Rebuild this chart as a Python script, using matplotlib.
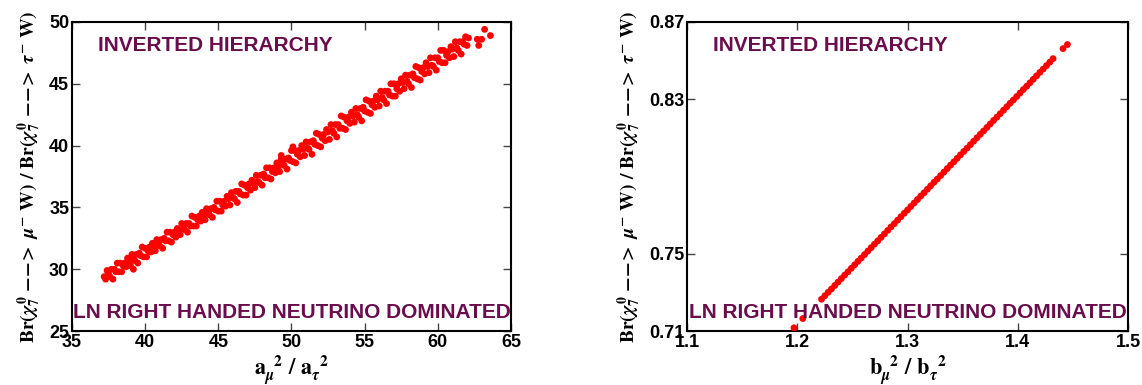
#%% IMPORT

import numpy as np
import matplotlib.pyplot as plt

#%% DADOS

# painel esquerdo: a_mu^2/a_tau^2 vs razão de Br
a_ratio = [37.2, 37.3, 37.4, 37.5, 37.6, 37.7, 37.8, 37.9, 38.0, 38.1,
           38.2, 38.3, 38.4, 38.5, 38.6, 38.7, 38.8, 38.9, 39.0, 39.1,
           39.2, 39.3, 39.4, 39.5, 39.6, 39.7, 39.8, 39.9, 40.0, 40.1,
           40.2, 40.3, 40.4, 40.5, 40.6, 40.7, 40.8, 40.9, 41.0, 41.1,
           41.2, 41.3, 41.4, 41.5, 41.6, 41.7, 41.8, 41.9, 42.0, 42.1,
           42.2, 42.3, 42.4, 42.5, 42.6, 42.7, 42.8, 42.9, 43.0, 43.1,
           43.2, 43.3, 43.4, 43.5, 43.6, 43.7, 43.8, 43.9, 44.0, 44.1,
           44.2, 44.3, 44.4, 44.5, 44.6, 44.7, 44.8, 44.9, 45.0, 45.1,
           45.2, 45.3, 45.4, 45.5, 45.6, 45.7, 45.8, 45.9, 46.0, 46.1,
           46.2, 46.3, 46.4, 46.5, 46.6, 46.7, 46.8, 46.9, 47.0, 47.1,
           47.2, 47.3, 47.4, 47.5, 47.6, 47.7, 47.8, 47.9, 48.0, 48.1,
           48.2, 48.3, 48.4, 48.5, 48.6, 48.7, 48.8, 48.9, 49.0, 49.1,
           49.2, 49.3, 49.4, 49.5, 49.6, 49.7, 49.8, 49.9, 50.0, 50.1,
           50.2, 50.3, 50.4, 50.5, 50.6, 50.7, 50.8, 50.9, 51.0, 51.1,
           51.2, 51.3, 51.4, 51.5, 51.6, 51.7, 51.8, 51.9, 52.0, 52.1,
           52.2, 52.3, 52.4, 52.5, 52.6, 52.7, 52.8, 52.9, 53.0, 53.1,
           53.2, 53.3, 53.4, 53.5, 53.6, 53.7, 53.8, 53.9, 54.0, 54.1,
           54.2, 54.3, 54.4, 54.5, 54.6, 54.7, 54.8, 54.9, 55.0, 55.1,
           55.2, 55.3, 55.4, 55.5, 55.6, 55.7, 55.8, 55.9, 56.0, 56.1,
           56.2, 56.3, 56.4, 56.5, 56.6, 56.7, 56.8, 56.9, 57.0, 57.1,
           57.2, 57.3, 57.4, 57.5, 57.6, 57.7, 57.8, 57.9, 58.0, 58.1,
           58.2, 58.3, 58.4, 58.5, 58.6, 58.7, 58.8, 58.9, 59.0, 59.1,
           59.2, 59.3, 59.4, 59.5, 59.6, 59.7, 59.8, 59.9, 60.0, 60.1,
           60.2, 60.3, 60.4, 60.5, 60.6, 60.7, 60.8, 60.9, 61.0, 61.1,
           61.2, 61.3, 61.4, 61.5, 61.6, 61.7, 61.8, 61.9, 62.0, 62.1,
           62.7, 62.8, 63.0, 63.2, 63.6, 39.2, 50.1, 49.3]
br_a = [29.4, 29.2, 29.9, 29.6, 29.4, 30.0, 29.2, 30.0, 29.8, 30.5,
        29.8, 30.5, 29.8, 30.3, 30.5, 30.2, 30.9, 30.7, 30.3, 31.2,
        30.8, 30.7, 31.2, 30.5, 31.3, 31.1, 31.8, 31.0, 31.7, 31.0,
        31.5, 31.8, 31.4, 32.1, 31.9, 31.5, 32.4, 32.0, 31.9, 32.4,
        31.7, 32.5, 32.3, 33.0, 32.3, 33.0, 32.2, 32.8, 33.0, 32.6,
        33.3, 33.1, 32.8, 33.7, 33.3, 33.2, 33.7, 33.0, 33.7, 33.5,
        34.3, 33.5, 34.2, 33.5, 34.0, 34.3, 33.9, 34.6, 34.4, 34.0,
        34.9, 34.5, 34.4, 34.9, 34.2, 35.0, 34.8, 35.5, 34.7, 35.5,
        34.7, 35.2, 35.5, 35.1, 35.9, 35.7, 35.2, 36.2, 35.8, 35.7,
        36.3, 35.4, 36.3, 36.1, 36.9, 36.0, 36.8, 36.0, 36.6, 36.9,
        36.4, 37.2, 37.0, 36.6, 37.6, 37.1, 37.0, 37.6, 36.8, 37.7,
        37.4, 38.2, 37.4, 38.2, 37.3, 37.9, 38.2, 37.8, 38.6, 38.3,
        37.9, 38.9, 38.5, 38.4, 38.9, 38.1, 39.0, 38.8, 39.6, 38.7,
        39.6, 38.6, 39.3, 39.6, 39.1, 40.0, 39.7, 39.2, 40.3, 39.8,
        39.7, 40.3, 39.3, 40.4, 40.1, 41.0, 40.0, 40.9, 39.9, 40.6,
        40.9, 40.4, 41.3, 41.1, 40.5, 41.7, 41.2, 41.0, 41.7, 40.7,
        41.7, 41.4, 42.4, 41.4, 42.3, 41.3, 42.0, 42.3, 41.8, 42.7,
        42.4, 41.9, 43.0, 42.5, 42.3, 43.0, 42.0, 43.1, 42.8, 43.7,
        42.7, 43.6, 42.6, 43.3, 43.6, 43.1, 44.0, 43.7, 43.2, 44.4,
        43.9, 43.7, 44.4, 43.4, 44.4, 44.1, 45.0, 44.0, 45.0, 44.0,
        44.6, 45.0, 44.4, 45.4, 45.1, 44.6, 45.7, 45.2, 45.0, 45.7,
        44.7, 45.8, 45.5, 46.4, 45.4, 46.3, 45.3, 46.0, 46.3, 45.8,
        46.7, 46.4, 45.9, 47.1, 46.5, 46.4, 47.1, 46.1, 47.1, 46.8,
        47.7, 46.7, 47.7, 46.7, 47.3, 47.6, 47.1, 48.0, 47.8, 47.2,
        48.4, 47.9, 47.7, 48.4, 47.4, 48.4, 48.2, 48.8, 48.1, 48.7,
        48.6, 48.1, 48.6, 49.4, 48.9, 30.0, 39.9, 39.2]

# painel direito: b_mu^2/b_tau^2 vs razão de Br
b_ratio = [1.197, 1.205,
           1.222, 1.225, 1.228, 1.231, 1.234, 1.237, 1.240, 1.243, 1.246, 1.249,
           1.252, 1.255, 1.258, 1.261, 1.264, 1.267, 1.270, 1.273, 1.276, 1.279,
           1.282, 1.285, 1.288, 1.291, 1.294, 1.297, 1.300, 1.303, 1.306, 1.309,
           1.312, 1.315, 1.318, 1.321, 1.324, 1.327, 1.330, 1.333, 1.336, 1.339,
           1.342, 1.345, 1.348, 1.351, 1.354, 1.357, 1.360, 1.363, 1.366, 1.369,
           1.372, 1.375, 1.378, 1.381, 1.384, 1.387, 1.390, 1.393, 1.396, 1.399,
           1.402, 1.405, 1.408, 1.411, 1.414, 1.417, 1.420, 1.423, 1.426, 1.429,
           1.432, 1.441, 1.445]
br_b = [0.7117, 0.7165,
        0.7265, 0.7283, 0.7301, 0.7318, 0.7336, 0.7354, 0.7372, 0.7390, 0.7407, 0.7425,
        0.7443, 0.7461, 0.7478, 0.7496, 0.7514, 0.7532, 0.7550, 0.7567, 0.7585, 0.7603,
        0.7621, 0.7639, 0.7656, 0.7674, 0.7692, 0.7710, 0.7727, 0.7745, 0.7763, 0.7781,
        0.7799, 0.7816, 0.7834, 0.7852, 0.7870, 0.7887, 0.7905, 0.7923, 0.7941, 0.7959,
        0.7976, 0.7994, 0.8012, 0.8030, 0.8047, 0.8065, 0.8083, 0.8101, 0.8119, 0.8136,
        0.8154, 0.8172, 0.8190, 0.8207, 0.8225, 0.8243, 0.8261, 0.8279, 0.8296, 0.8314,
        0.8332, 0.8350, 0.8367, 0.8385, 0.8403, 0.8421, 0.8439, 0.8456, 0.8474, 0.8492,
        0.8510, 0.8562, 0.8583]

a_ticks = [35, 40, 45, 50, 55, 60, 65]
a_yticks = [25, 30, 35, 40, 45, 50]
b_ticks = [1.1, 1.2, 1.3, 1.4, 1.5]
b_yticks = [0.71, 0.75, 0.83, 0.87]

#%% ESTILO

plt.rcParams['font.family'] = ['Liberation Sans', 'DejaVu Sans']
plt.rcParams['font.weight'] = 'bold'
plt.rcParams['mathtext.fontset'] = 'stix'

roxo = '#6a0d4d'
ylab = (r'$\mathbf{Br(}\chi^{\,0}_{\,7}\ \mathbf{-\!-\!\!>}\ \mu^{-}\ \mathbf{W)\ /\ Br(}'
        r'\chi^{\,0}_{\,7}\ \mathbf{-\!-\!\!>}\ \tau^{-}\ \mathbf{W)}$')

#%% FIGURA

fig = plt.figure(figsize=(11.42, 3.85), dpi=100)
ax1 = fig.add_axes([0.063, 0.140, 0.3844, 0.803])
ax2 = fig.add_axes([0.6016, 0.140, 0.3862, 0.803])

def painel(ax, x, y, xt, yt, xlab):
    ax.scatter(x, y, s=24, color='red', edgecolors='none', zorder=3)
    ax.set_xlim(xt[0], xt[-1])
    ax.set_ylim(yt[0], yt[-1])
    ax.set_xticks(xt)
    ax.set_yticks(yt)
    ax.set_xticklabels([str(v) for v in xt])
    ax.set_yticklabels([str(v) for v in yt])
    ax.tick_params(direction='in', length=6, width=1, color='#444444',
                   top=True, right=True, labelsize=13, pad=2)
    for s in ax.spines.values():
        s.set_linewidth(1.5)
    ax.set_ylabel(ylab, fontsize=14, labelpad=4)
    ax.set_xlabel(xlab, fontsize=16, labelpad=2)
    ax.text(0.06, 0.925, 'INVERTED HIERARCHY', transform=ax.transAxes,
            fontsize=15, color=roxo, fontweight='bold', va='center')
    ax.text(0.5, 0.06, 'LN RIGHT HANDED NEUTRINO DOMINATED', transform=ax.transAxes,
            fontsize=15, color=roxo, fontweight='bold', va='center', ha='center')

painel(ax1, a_ratio, br_a, a_ticks, a_yticks,
       r'$\mathbf{a}_{\mu}^{\ \ 2}\ \mathbf{/}\ \mathbf{a}_{\tau}^{\ \ 2}$')
painel(ax2, b_ratio, br_b, b_ticks, b_yticks,
       r'$\mathbf{b}_{\mu}^{\ \ 2}\ \mathbf{/}\ \mathbf{b}_{\tau}^{\ \ 2}$')

plt.savefig('out.png', dpi=100)
